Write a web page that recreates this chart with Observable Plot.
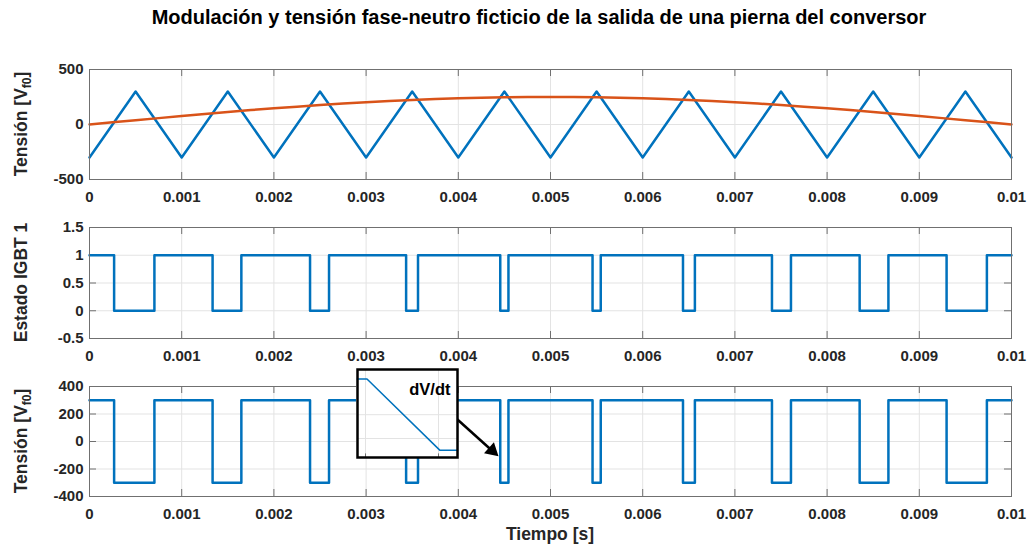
<!DOCTYPE html>
<html><head><meta charset="utf-8">
<script src="https://cdn.jsdelivr.net/npm/d3@7"></script>
<script src="https://cdn.jsdelivr.net/npm/@observablehq/plot@0.6"></script>
<style>
body{margin:0;background:#fff;}
#root{position:relative;width:1028px;height:547px;font-family:"Liberation Sans",Arial,sans-serif;color:#262626;overflow:hidden;}
#root svg{position:absolute;left:0;overflow:visible;}
#title{position:absolute;top:6px;left:539px;transform:translateX(-50%);white-space:nowrap;font-weight:bold;font-size:20px;line-height:22px;color:#000;}
</style></head><body><div id="root"><div id="title">Modulación y tensión fase-neutro ficticio de la salida de una pierna del conversor</div></div>
<script>
// ---------- data ----------
const xTicks = [0, 0.001, 0.002, 0.003, 0.004, 0.005, 0.006, 0.007, 0.008, 0.009, 0.01];
const xTickLabels = ["0", "0.001", "0.002", "0.003", "0.004", "0.005", "0.006", "0.007", "0.008", "0.009", "0.01"];
const y1Ticks = [-500, 0, 500];
const y2Ticks = [-0.5, 0, 0.5, 1, 1.5];
const y2TickLabels = ["-0.5", "0", "0.5", "1", "1.5"];
const y3Ticks = [-400, -200, 0, 200, 400];

// triangular carrier vertices
const carrierT = [0, 0.0005, 0.001, 0.0015, 0.002, 0.0025, 0.003, 0.0035, 0.004, 0.0045, 0.005, 0.0055, 0.006, 0.0065, 0.007, 0.0075, 0.008, 0.0085, 0.009, 0.0095, 0.01];
const carrierV = [-300, 300, -300, 300, -300, 300, -300, 300, -300, 300, -300, 300, -300, 300, -300, 300, -300, 300, -300, 300, -300];

// modulating signal (sampled every 0.25 ms)
const modT = [0, 0.00025, 0.0005, 0.00075, 0.001, 0.00125, 0.0015, 0.00175, 0.002, 0.00225, 0.0025, 0.00275, 0.003, 0.00325, 0.0035, 0.00375, 0.004, 0.00425, 0.0045, 0.00475, 0.005, 0.00525, 0.0055, 0.00575, 0.006, 0.00625, 0.0065, 0.00675, 0.007, 0.00725, 0.0075, 0.00775, 0.008, 0.00825, 0.0085, 0.00875, 0.009, 0.00925, 0.0095, 0.00975, 0.01];
const modV = [0, 20, 39, 58, 77, 96, 114, 131, 147, 162, 177, 190, 202, 213, 223, 231, 238, 243, 247, 249, 250, 249, 247, 243, 238, 231, 223, 213, 202, 190, 177, 162, 147, 131, 114, 96, 77, 58, 39, 20, 0];

// switching instants of IGBT 1
const turnOffT = [0.000267, 0.001335, 0.002392, 0.003434, 0.004455, 0.005456, 0.006437, 0.007402, 0.008353, 0.009296];
const turnOnT  = [0.000704, 0.001647, 0.002598, 0.003563, 0.004544, 0.005545, 0.006566, 0.007608, 0.008665, 0.009733];
const stateLevels = [0, 1];          // off, on
const voltLevels = [-300, 300];      // Vf0 when off, on

// zoomed detail (dV/dt) — relative time units
const insetT = [-0.11, 0.02, 1.02, 1.26];
const insetV = [300, 300, -300, -300];
const insetXGrid = [0, 1];
const insetYGrid = [0, -200];
const insetLabel = ["dV/dt"];

// arrow from the detail box to the switching edge
const arrowFrom = {x: 0.00399, y: 160};
const arrowTo = {x: 0.00443, y: -105};

// ---------- helpers ----------
const BLUE = "#0072BD", ORANGE = "#D95319";
const GRID = "#e3e3e3", FRAME = "#707070";
const FONT = "'Liberation Sans', Arial, sans-serif";
const W = 1028, ML = 89, MR = 17;

function stepSeries(levels) {
  const pts = [{t: 0, v: levels[1]}];
  for (let i = 0; i < turnOffT.length; i++) {
    pts.push({t: turnOffT[i], v: levels[0]});
    pts.push({t: turnOnT[i], v: levels[1]});
  }
  pts.push({t: 0.01, v: levels[1]});
  return pts;
}

function panel({top, height, mt, mb, yDomain, yTicks, yFmt, marks, label, labelSub}) {
  const ph = height - mt - mb, pw = W - ML - MR;
  const tx = (yDomain[1] - yDomain[0]) * 7 / ph;
  const ty = 0.01 * 7 / pw;
  const svg = Plot.plot({
    width: W, height, marginLeft: ML, marginRight: MR, marginTop: mt, marginBottom: mb,
    style: {fontFamily: FONT, fontSize: "15px", fontWeight: "bold", color: "#262626", background: "transparent", overflow: "visible"},
    x: {domain: [0, 0.01], label: null},
    y: {domain: yDomain, label: null},
    marks: [
      Plot.gridX(xTicks, {stroke: GRID, strokeOpacity: 1}),
      Plot.gridY(yTicks, {stroke: GRID, strokeOpacity: 1}),
      Plot.ruleX(xTicks, {x: d => d, y1: yDomain[0], y2: yDomain[0] + tx, stroke: FRAME}),
      Plot.ruleX(xTicks, {x: d => d, y1: yDomain[1], y2: yDomain[1] - tx, stroke: FRAME}),
      Plot.ruleY(yTicks, {y: d => d, x1: 0, x2: ty, stroke: FRAME}),
      Plot.ruleY(yTicks, {y: d => d, x1: 0.01, x2: 0.01 - ty, stroke: FRAME}),
      ...marks,
      Plot.frame({stroke: FRAME, strokeWidth: 1}),
      Plot.axisX(xTicks, {tickSize: 0, tickPadding: 12, tickFormat: d => xTickLabels[xTicks.indexOf(d)], label: null}),
      Plot.axisY(yTicks, {tickSize: 0, tickPadding: 6, tickFormat: yFmt, label: null})
    ]
  });
  svg.style.top = top + "px";
  const cy = mt + ph / 2;
  const t = d3.select(svg).append("text")
    .attr("transform", `translate(27,${cy}) rotate(-90)`)
    .attr("text-anchor", "middle")
    .attr("font-size", "17.5px").attr("font-weight", "bold").attr("fill", "#262626")
    .attr("font-family", FONT);
  t.append("tspan").text(label);
  if (labelSub) {
    t.append("tspan").attr("font-size", "12px").attr("dy", "4").text(labelSub);
    t.append("tspan").attr("dy", "-4").text("]");
  }
  document.getElementById("root").appendChild(svg);
  return svg;
}

// ---------- panel 1 ----------
panel({
  top: 40, height: 175, mt: 29, mb: 36,
  yDomain: [-500, 500], yTicks: y1Ticks, yFmt: d => String(d),
  label: "Tensión [V", labelSub: "f0",
  marks: [
    Plot.line(carrierT.map((t, i) => ({t, v: carrierV[i]})), {x: "t", y: "v", stroke: BLUE, strokeWidth: 2.5}),
    Plot.line(modT.map((t, i) => ({t, v: modV[i]})), {x: "t", y: "v", stroke: ORANGE, strokeWidth: 2.5})
  ]
});

// ---------- panel 2 ----------
panel({
  top: 200, height: 170, mt: 27, mb: 32,
  yDomain: [-0.5, 1.5], yTicks: y2Ticks, yFmt: d => y2TickLabels[y2Ticks.indexOf(d)],
  label: "Estado IGBT 1",
  marks: [
    Plot.line(stepSeries(stateLevels), {x: "t", y: "v", curve: "step-after", stroke: BLUE, strokeWidth: 2.5})
  ]
});

// ---------- panel 3 ----------
const p3 = panel({
  top: 365, height: 182, mt: 21, mb: 51,
  yDomain: [-400, 400], yTicks: y3Ticks, yFmt: d => String(d),
  label: "Tensión [V", labelSub: "f0",
  marks: [
    Plot.line(stepSeries(voltLevels), {x: "t", y: "v", curve: "step-after", stroke: BLUE, strokeWidth: 2.5}),
    Plot.link([0], {x1: () => arrowFrom.x, y1: () => arrowFrom.y, x2: () => arrowTo.x, y2: () => arrowTo.y, stroke: "#000", strokeWidth: 2.5, dx: -3, dy: -2.7}),
    Plot.dot([0], {x: () => arrowTo.x, y: () => arrowTo.y, symbol: "triangle", r: 5.5, rotate: 132, fill: "#000", stroke: "none", dx: -5.8, dy: -5.3})
  ]
});
d3.select(p3).append("text")
  .attr("x", 550).attr("y", 175)
  .attr("text-anchor", "middle")
  .attr("font-size", "17.5px").attr("font-weight", "bold").attr("fill", "#262626")
  .attr("font-family", FONT)
  .text("Tiempo [s]");

// ---------- inset ----------
const inset = Plot.plot({
  width: 102, height: 90, marginLeft: 1, marginRight: 1, marginTop: 1, marginBottom: 1,
  style: {fontFamily: FONT, background: "#fff", overflow: "visible"},
  x: {domain: [-0.11, 1.26], axis: null},
  y: {domain: [-360, 380], axis: null},
  marks: [
    Plot.gridX(insetXGrid, {stroke: GRID, strokeOpacity: 1}),
    Plot.gridY(insetYGrid, {stroke: GRID, strokeOpacity: 1}),
    Plot.ruleX(insetXGrid, {x: d => d, y1: -360, y2: -330, stroke: FRAME}),
    Plot.line(insetT.map((t, i) => ({t, v: insetV[i]})), {x: "t", y: "v", stroke: BLUE, strokeWidth: 1.5}),
    Plot.text(insetLabel, {text: d => d, frameAnchor: "top-right", dx: -7, dy: 14, fontSize: 16.5, fontWeight: "bold", fill: "#000"}),
    Plot.frame({stroke: "#000", strokeWidth: 2.5})
  ]
});
inset.style.left = "356px";
inset.style.top = "368px";
document.getElementById("root").appendChild(inset);
</script></body></html>
